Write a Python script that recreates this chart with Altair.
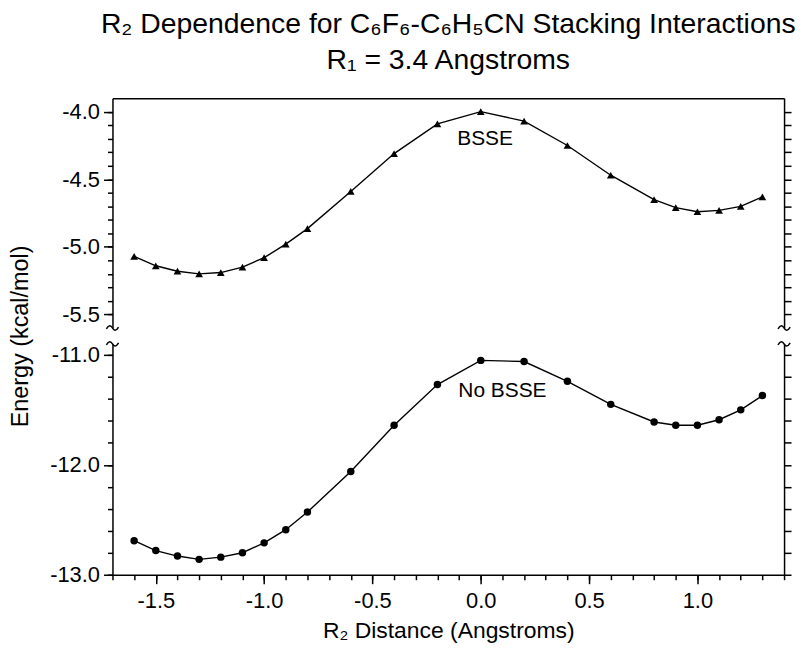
import altair as alt
import pandas as pd

# ---------------- data ----------------
x_vals = [-1.6, -1.5, -1.4, -1.3, -1.2, -1.1, -1.0, -0.9, -0.8, -0.6, -0.4, -0.2,
          0.0, 0.2, 0.4, 0.6, 0.8, 0.9, 1.0, 1.1, 1.2, 1.3]
bsse = [-5.07, -5.14, -5.18, -5.20, -5.19, -5.15, -5.08, -4.98, -4.865, -4.59, -4.31, -4.09,
        -4.00, -4.07, -4.25, -4.47, -4.65, -4.71, -4.74, -4.73, -4.70, -4.63]
no_bsse = [-12.69, -12.78, -12.83, -12.86, -12.84, -12.80, -12.71, -12.59, -12.43, -12.06, -11.64, -11.27,
           -11.05, -11.06, -11.24, -11.45, -11.61, -11.64, -11.64, -11.59, -11.50, -11.37]

# axis ranges and tick values
x_domain = [-1.7, 1.4]
x_major = [-1.5, -1.0, -0.5, 0.0, 0.5, 1.0]
x_minor = [-1.7, -1.6, -1.5, -1.4, -1.3, -1.2, -1.1, -1.0, -0.9, -0.8, -0.7, -0.6, -0.5, -0.4,
           -0.3, -0.2, -0.1, 0.0, 0.1, 0.2, 0.3, 0.4, 0.5, 0.6, 0.7, 0.8, 0.9, 1.0, 1.1, 1.2, 1.3, 1.4]

top_domain = [-5.6, -3.9]
top_major = [-5.5, -5.0, -4.5, -4.0]
top_minor = [-5.5, -5.4, -5.3, -5.2, -5.1, -5.0, -4.9, -4.8, -4.7, -4.6, -4.5, -4.4, -4.3, -4.2, -4.1, -4.0]

bot_domain = [-13.0, -10.9]
bot_major = [-13.0, -12.0, -11.0]
bot_minor = [-13.0, -12.8, -12.6, -12.4, -12.2, -12.0, -11.8, -11.6, -11.4, -11.2, -11.0]

# annotations
top_label = {"x": [0.02], "y": [-4.20], "t": ["BSSE"]}
bot_label = {"x": [0.10], "y": [-11.33], "t": ["No BSSE"]}

title_lines = ["R\u2082 Dependence for C\u2086F\u2086-C\u2086H\u2085CN Stacking Interactions",
               "R\u2081 = 3.4 Angstroms"]
x_title = "R\u2082 Distance (Angstroms)"
y_title = "Energy (kcal/mol)"

FONT = "Liberation Sans"
W = 675
H_TOP = 231
H_BOT = 232
LABEL_EXPR = "(datum.value < 0 ? '-' : '') + format(abs(datum.value), '.1f')"

df_top = pd.DataFrame({"x": x_vals, "y": bsse})
df_bot = pd.DataFrame({"x": x_vals, "y": no_bsse})

BREAK_SHAPE = "M -1 0.15 C -0.6 -0.55 -0.25 -0.45 0 0 C 0.25 0.45 0.6 0.55 1 -0.15"

common_axis = dict(domainColor="black", tickColor="black", labelColor="black",
                   domainWidth=1.5, tickWidth=1.5, labelFont=FONT, labelFontSize=22,
                   grid=False)


def panel(df, ydom, major, minor, shape, label, is_top):
    xs = alt.Scale(domain=x_domain, nice=False, zero=False)
    ys = alt.Scale(domain=ydom, nice=False, zero=False)

    if is_top:
        x_axis_line = alt.Axis(orient="top", labels=False, ticks=False, domain=True,
                               title=None, **common_axis)
        x_axis_pts = None
        y_axis_line = alt.Axis(orient="left", values=major, tickSize=9, labelPadding=4,
                               labelExpr=LABEL_EXPR, domain=True, title=y_title,
                               titleFont=FONT, titleFontSize=23.5, titleFontWeight="normal",
                               titleColor="black", titleX=-80, titleY=239, **common_axis)
    else:
        x_axis_line = alt.Axis(orient="bottom", values=x_major, tickSize=9, labelPadding=7,
                               labelExpr=LABEL_EXPR, domain=True, title=x_title,
                               titleFont=FONT, titleFontSize=23, titleFontWeight="normal",
                               titleColor="black", titlePadding=8, **common_axis)
        x_axis_pts = alt.Axis(orient="bottom", values=x_minor, tickSize=5, labels=False,
                              domain=False, title=None, **common_axis)
        y_axis_line = alt.Axis(orient="left", values=major, tickSize=9, labelPadding=4,
                               labelExpr=LABEL_EXPR, domain=True, title=None, **common_axis)

    y_axis_pts = alt.Axis(orient="left", values=minor, tickSize=5, labels=False,
                          domain=False, title=None, **common_axis)
    y_axis_right = alt.Axis(orient="right", values=minor, tickSize=7, labels=False,
                            domain=True, title=None, **common_axis)

    line = alt.Chart(df).mark_line(color="black", strokeWidth=1.4).encode(
        x=alt.X("x:Q", scale=xs, axis=x_axis_line),
        y=alt.Y("y:Q", scale=ys, axis=y_axis_line),
    )
    pts = alt.Chart(df).mark_point(shape=shape, filled=True, color="black", opacity=1,
                                   size=56 if shape == "circle" else 60).encode(
        x=alt.X("x:Q", scale=xs, axis=x_axis_pts),
        y=alt.Y("y:Q", scale=ys, axis=y_axis_pts),
    )
    by = ydom[0] if is_top else ydom[1]
    brk_df = pd.DataFrame({"x": x_domain, "y": [by, by]})
    brk = alt.Chart(brk_df).mark_point(shape=BREAK_SHAPE, filled=False, color="black",
                                       strokeWidth=1.5, size=150, opacity=1).encode(
        x=alt.X("x:Q", scale=xs, axis=None),
        y=alt.Y("y:Q", scale=ys, axis=y_axis_right),
    )
    txt = alt.Chart(pd.DataFrame(label)).mark_text(font=FONT, fontSize=21, color="black").encode(
        x=alt.X("x:Q", scale=xs, axis=None),
        y=alt.Y("y:Q", scale=ys, axis=None),
        text="t:N",
    )
    ch = alt.layer(line, pts, brk, txt).resolve_scale(
        x="independent", y="independent").resolve_axis(x="independent", y="independent")
    return ch


top = panel(df_top, top_domain, top_major, top_minor, "triangle-up", top_label, True).properties(
    width=W, height=H_TOP,
    title=alt.TitleParams(text=title_lines, font=FONT, fontSize=28.5, fontWeight="normal",
                          color="black", anchor="middle", lineHeight=36, offset=24),
)
bot = panel(df_bot, bot_domain, bot_major, bot_minor, "circle", bot_label, False).properties(
    width=W, height=H_BOT,
)

chart = alt.vconcat(top, bot, spacing=16, bounds="flush").properties(
    padding={"left": 1, "top": 0, "right": 0, "bottom": 0},
    background="white",
).configure_view(stroke=None)

chart.save("out.html", embed_options={"renderer": "svg", "actions": False})
